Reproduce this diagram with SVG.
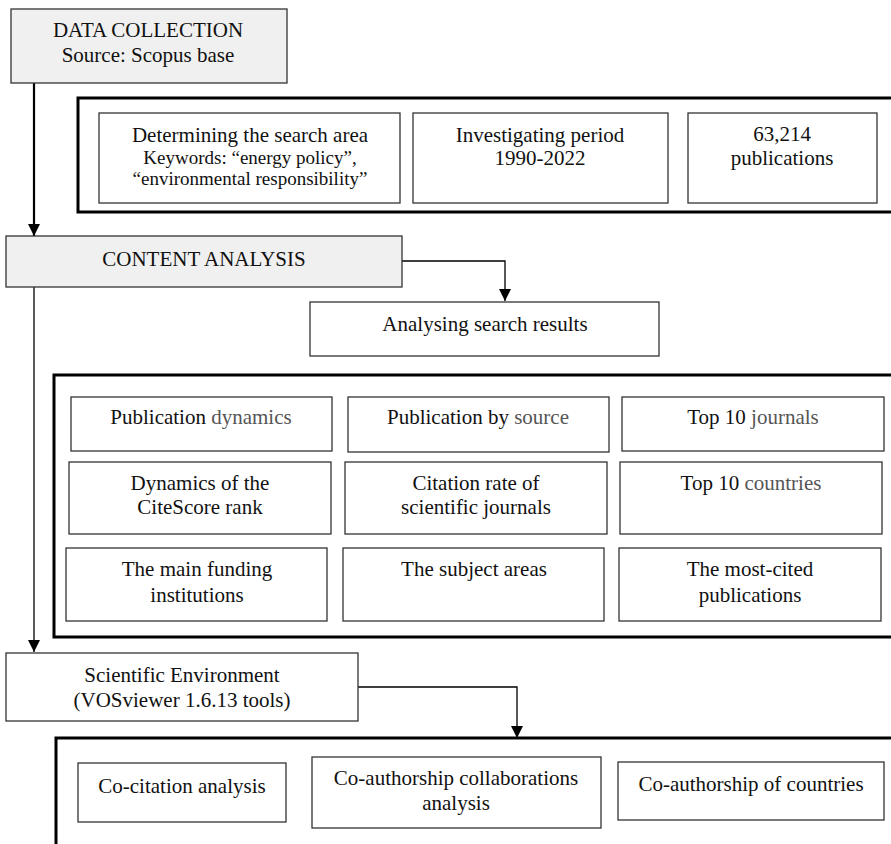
<svg xmlns="http://www.w3.org/2000/svg" width="891" height="844" viewBox="0 0 891 844">
<style>
text{font-family:"Liberation Serif","Times New Roman",serif;font-size:21px;fill:#111;text-anchor:middle}
.sm{font-size:19px}
.g{fill:#555}
.box{fill:#fff;stroke:#333;stroke-width:1.3}
.grey{fill:#f0f0f0;stroke:#333;stroke-width:1.3}
.frame{fill:none;stroke:#000;stroke-width:3}
.ln{fill:none;stroke:#000;stroke-width:1.3}
</style>
<defs>
<marker id="ah" markerWidth="12" markerHeight="14" refX="12" refY="7" orient="auto" markerUnits="userSpaceOnUse">
<path d="M0,1 L12,7 L0,13 Z" fill="#000"/>
</marker>
</defs>
<rect width="891" height="844" fill="#fff"/>

<g id="connectors">
<line x1="34" y1="83" x2="34" y2="236" stroke="#000" stroke-width="2.2" marker-end="url(#ah)"/>
<polyline class="ln" points="402,261 505,261 505,301" marker-end="url(#ah)"/>
<line class="ln" x1="34" y1="287" x2="34" y2="652" marker-end="url(#ah)"/>
<polyline class="ln" points="358,687 517,687 517,738" marker-end="url(#ah)"/>
</g>

<g id="data-collection">
<rect class="grey" x="11" y="9" width="276" height="74"/>
<text x="148" y="37">DATA COLLECTION</text>
<text x="148" y="62">Source: Scopus base</text>
</g>

<g id="frame-search">
<rect class="frame" x="78" y="98" width="840" height="114"/>
</g>
<g id="search-area">
<rect class="box" x="99" y="113" width="301" height="90"/>
<text x="250" y="142">Determining the search area</text>
<text class="sm" x="250" y="164">Keywords: “energy policy”,</text>
<text class="sm" x="250" y="185">“environmental responsibility”</text>
</g>
<g id="period">
<rect class="box" x="413" y="113" width="255" height="90"/>
<text x="540" y="142">Investigating period</text>
<text x="540" y="165">1990-2022</text>
</g>
<g id="publications">
<rect class="box" x="688" y="113" width="189" height="90"/>
<text x="782" y="141">63,214</text>
<text x="782" y="165">publications</text>
</g>

<g id="content-analysis">
<rect class="grey" x="6" y="236" width="396" height="51"/>
<text x="204" y="266">CONTENT ANALYSIS</text>
</g>
<g id="analysing">
<rect class="box" x="310" y="302" width="349" height="54"/>
<text x="485" y="331">Analysing search results</text>
</g>

<g id="frame-analysis">
<rect class="frame" x="54" y="375" width="860" height="262"/>
</g>
<g id="pub-dynamics">
<rect class="box" x="71" y="397" width="261" height="54"/>
<text x="201" y="424">Publication <tspan class="g">dynamics</tspan></text>
</g>
<g id="pub-source">
<rect class="box" x="348" y="397" width="261" height="55"/>
<text x="478" y="424">Publication by <tspan class="g">source</tspan></text>
</g>
<g id="top-journals">
<rect class="box" x="622" y="397" width="262" height="54"/>
<text x="753" y="424">Top 10 <tspan class="g">journals</tspan></text>
</g>
<g id="citescore">
<rect class="box" x="69" y="462" width="262" height="72"/>
<text x="200" y="490">Dynamics of the</text>
<text x="200" y="514">CiteScore rank</text>
</g>
<g id="citation-rate">
<rect class="box" x="345" y="462" width="262" height="72"/>
<text x="476" y="490">Citation rate of</text>
<text x="476" y="514">scientific journals</text>
</g>
<g id="top-countries">
<rect class="box" x="620" y="462" width="262" height="72"/>
<text x="751" y="490">Top 10 <tspan class="g">countries</tspan></text>
</g>
<g id="funding">
<rect class="box" x="66" y="548" width="261" height="73"/>
<text x="197" y="576">The main funding</text>
<text x="197" y="602">institutions</text>
</g>
<g id="subject-areas">
<rect class="box" x="343" y="548" width="261" height="73"/>
<text x="474" y="576">The subject areas</text>
</g>
<g id="most-cited">
<rect class="box" x="619" y="548" width="262" height="73"/>
<text x="750" y="576">The most-cited</text>
<text x="750" y="602">publications</text>
</g>

<g id="scientific-environment">
<rect class="box" x="6" y="653" width="352" height="68"/>
<text x="182" y="682">Scientific Environment</text>
<text x="182" y="707">(VOSviewer 1.6.13 tools)</text>
</g>

<g id="frame-vos">
<rect class="frame" x="56" y="738" width="860" height="130"/>
</g>
<g id="co-citation">
<rect class="box" x="78" y="763" width="208" height="59"/>
<text x="182" y="793">Co-citation analysis</text>
</g>
<g id="co-authorship-collab">
<rect class="box" x="312" y="757" width="289" height="71"/>
<text x="456" y="785">Co-authorship collaborations</text>
<text x="456" y="810">analysis</text>
</g>
<g id="co-authorship-countries">
<rect class="box" x="618" y="762" width="266" height="58"/>
<text x="751" y="791">Co-authorship of countries</text>
</g>
</svg>
